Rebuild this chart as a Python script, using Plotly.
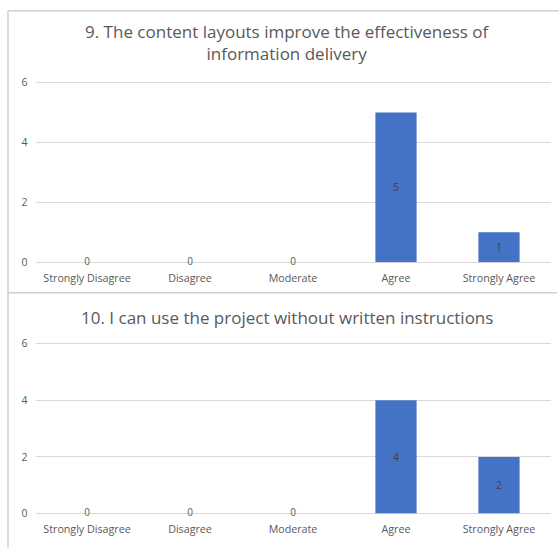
import plotly.graph_objects as go

# Survey responses for two usability questions
categories = ["Strongly Disagree", "Disagree", "Moderate", "Agree", "Strongly Agree"]
q9_counts = [0, 0, 0, 5, 1]
q10_counts = [0, 0, 0, 4, 2]
q9_title = "9. The content layouts improve the effectiveness of<br>information delivery"
q10_title = "10. I can use the project without written instructions"
y_ticks = [0, 2, 4, 6]

W, H = 559, 550
BAR = "#4472C4"
GRID = "#d9d9d9"
TEXT = "#595959"
FONT = "Open Sans"
Y_TOP = 6.15  # headroom so the top gridline is drawn


def px_x(p):
    return p / W


def px_y(p):
    return 1 - p / H


fig = go.Figure()

panels = [
    # (counts, title, xaxis, yaxis, y-pixel of zero, y-pixel of six, title y-pixel)
    (q9_counts, q9_title, "x", "y", 264, 81, 40),
    (q10_counts, q10_title, "x2", "y2", 520, 347, 320),
]

layout = {}
annotations = []
for i, (counts, title, xa, ya, p0, p6, ty) in enumerate(panels):
    top_px = p0 - (p0 - p6) * Y_TOP / 6
    # value labels: zeros sit on the axis, others inside the bar centre
    text = [str(v) for v in counts]
    fig.add_trace(go.Bar(
        x=categories, y=counts, xaxis=xa, yaxis=ya,
        marker=dict(color=BAR, line=dict(width=0)),
        width=0.4,
        text=text, textposition="inside", insidetextanchor="middle",
        textfont=dict(color="#404040", size=10, family=FONT),
        cliponaxis=False, showlegend=False, hoverinfo="x+y",
    ))
    zero_x = [c for c, v in zip(categories, counts) if v == 0]
    fig.add_trace(go.Scatter(
        x=zero_x, y=[0] * len(zero_x), xaxis=xa, yaxis=ya,
        mode="text", text=["0"] * len(zero_x), textposition="middle center",
        textfont=dict(color=TEXT, size=10, family=FONT),
        showlegend=False, hoverinfo="skip", cliponaxis=False,
    ))
    suffix = "" if i == 0 else "2"
    layout["xaxis" + suffix] = dict(
        domain=[px_x(35.5), px_x(550.5)],
        anchor=ya, showgrid=False, zeroline=False, showline=False,
        ticks="", tickfont=dict(color=TEXT, size=10.7, family=FONT),
        ticklabelstandoff=8, fixedrange=True,
    )
    layout["yaxis" + suffix] = dict(
        domain=[px_y(p0), px_y(top_px)], range=[0, Y_TOP],
        anchor=xa, tickvals=y_ticks, showgrid=True, gridcolor=GRID,
        gridwidth=1, zeroline=True, zerolinecolor=GRID, zerolinewidth=1,
        showline=False, ticks="", ticklabelstandoff=7,
        tickfont=dict(color=TEXT, size=10.5, family=FONT), fixedrange=True,
    )
    annotations.append(dict(
        text=title, x=px_x(287), y=px_y(ty), xref="paper", yref="paper",
        xanchor="center", yanchor="middle", showarrow=False,
        font=dict(color=TEXT, size=17, family=FONT), align="center",
    ))

# chart-area frames
line = dict(color="#d0d0d0", width=1.5)
shapes = [
    dict(type="line", xref="paper", yref="paper", x0=px_x(8), x1=px_x(W + 5),
         y0=px_y(8), y1=px_y(8), line=line),
    dict(type="line", xref="paper", yref="paper", x0=px_x(8), x1=px_x(8),
         y0=px_y(8), y1=px_y(H + 5), line=line),
    dict(type="line", xref="paper", yref="paper", x0=px_x(8), x1=px_x(557),
         y0=px_y(295), y1=px_y(295), line=line),
]

fig.update_layout(
    width=W, height=H, margin=dict(l=0, r=0, t=0, b=0),
    paper_bgcolor="white", plot_bgcolor="white",
    annotations=annotations, shapes=shapes, bargap=0.6,
    **layout,
)

fig.write_html("out.html")
